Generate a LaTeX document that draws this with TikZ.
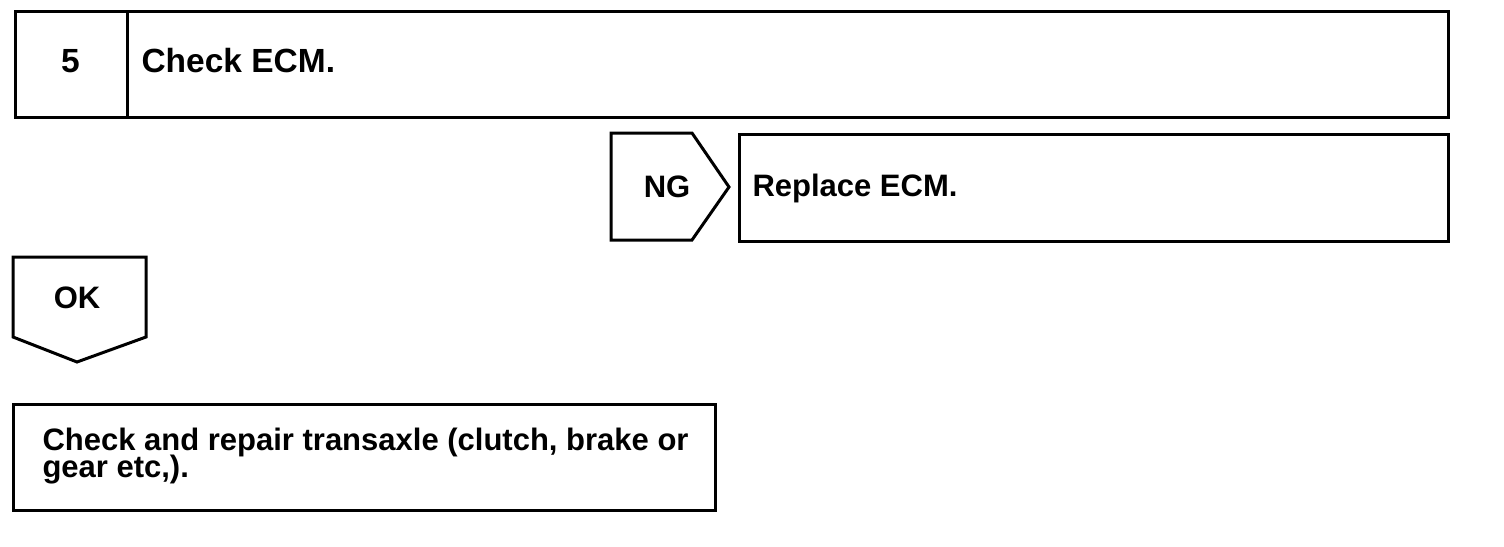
\documentclass[tikz,border=0pt]{standalone}
\usepackage{fontspec}
\setmainfont{Liberation Sans}
\begin{document}
\begin{tikzpicture}[x=1pt,y=-1pt,
  line width=3pt, line join=miter,
  box/.style={draw, rectangle, anchor=north west, inner sep=0pt},
  txt/.style={font=\fontsize{31}{22}\selectfont\bfseries, inner sep=0pt},
  bigtxt/.style={font=\fontsize{33.5}{30}\selectfont\bfseries, inner sep=0pt}]
\useasboundingbox (0,0) rectangle (1504,546);
% step box
\node[box, minimum width=1433pt, minimum height=106pt] (top) at (14,10) {};
\draw (127,10) -- (127,116);
\node[bigtxt] (num) at (70.5,61) {5};
\node[bigtxt, anchor=west] (chk) at (140,61) {Check ECM.};
% NG arrow
\draw (611,133) -- (692,133) -- (729,187) -- (692,240) -- (611,240) -- cycle;
\node[txt] (ng) at (667,187) {NG};
\node[box, minimum width=709pt, minimum height=107pt] (rep) at (738,133) {};
\node[txt, anchor=west] (reptxt) at (751,188) {Replace ECM.};
% OK arrow
\draw (13,257) -- (146,257) -- (146,337) -- (77,362) -- (13,337) -- cycle;
\node[txt] (ok) at (77,298) {OK};
% final box
\node[box, minimum width=702pt, minimum height=106pt] (fin) at (12,403) {};
\node[txt, anchor=base west, align=left] (fintxt) at (41,477) {Check and repair transaxle (clutch, brake or\\[-3pt]gear etc,).};
\end{tikzpicture}
\end{document}
